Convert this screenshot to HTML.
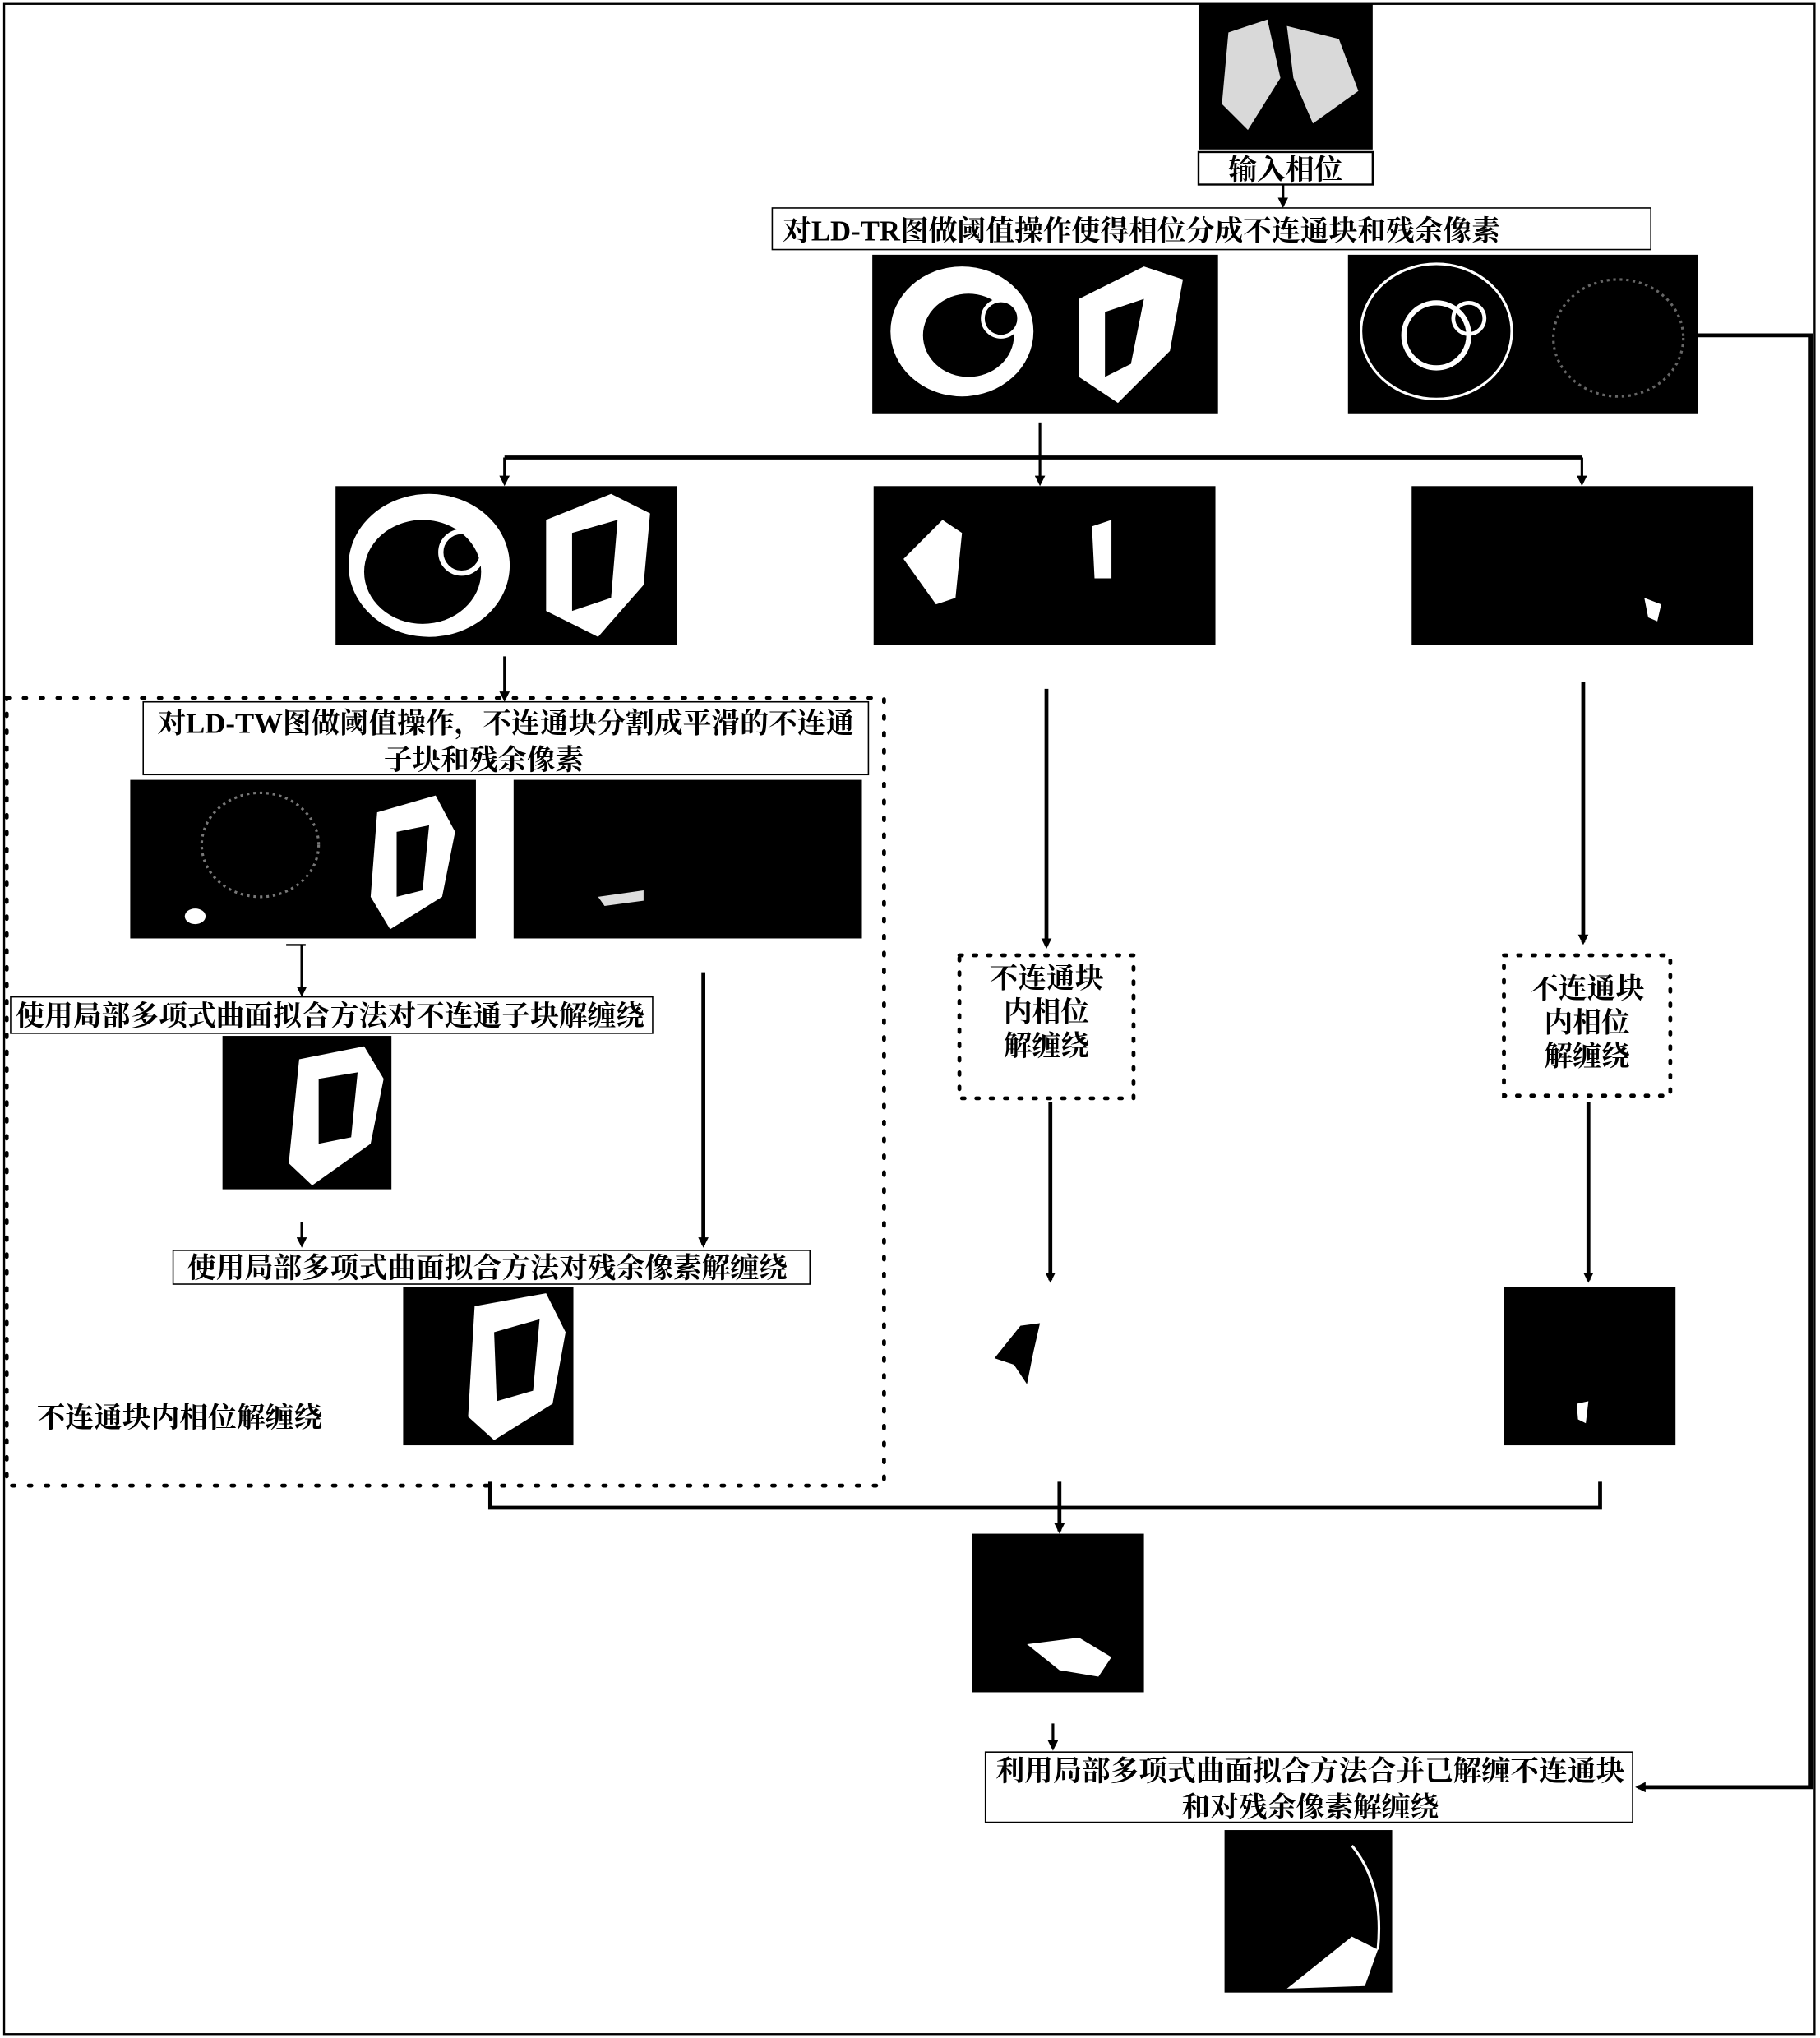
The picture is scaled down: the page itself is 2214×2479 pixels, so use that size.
<!DOCTYPE html>
<html><head><meta charset="utf-8"><style>
html,body{margin:0;padding:0;background:#fff}
svg{display:block}
text{font-family:"Liberation Serif","Noto Serif CJK SC",serif;font-weight:bold;font-size:22px;fill:#000}
</style></head><body>
<svg width="2214" height="2479" viewBox="0 0 1400 1568" xmlns="http://www.w3.org/2000/svg">
<defs>
<marker id="a" markerWidth="8" markerHeight="8" refX="6" refY="4" orient="auto" markerUnits="userSpaceOnUse"><path d="M0,0 L8,4 L0,8 z" fill="#000"/></marker>
</defs>
<rect x="3" y="3" width="1393" height="1562" fill="none" stroke="#000" stroke-width="1.5"/>

<rect x="922" y="3" width="134" height="112" fill="#000"/>
<path d="M945,25 L975,15 L985,60 L960,100 L940,80z M990,20 L1030,30 L1045,70 L1010,95 L995,60z" fill="#fff" opacity="0.85"/>
<rect x="922" y="117" width="134" height="25" fill="#fff" stroke="#000" stroke-width="1.5"/>
<text x="989" y="138" text-anchor="middle">输入相位</text>
<line x1="987" y1="142" x2="987" y2="158" stroke="#000" stroke-width="2" marker-end="url(#a)"/>

<rect x="594" y="160" width="676" height="32" fill="#fff" stroke="#000" stroke-width="1"/>
<text x="602" y="185">对LD-TR图做阈值操作使得相位分成不连通块和残余像素</text>

<rect x="671" y="196" width="266" height="122" fill="#000"/>
<ellipse cx="740" cy="255" rx="55" ry="50" fill="#fff"/>
<ellipse cx="745" cy="258" rx="35" ry="32" fill="#000"/>
<circle cx="770" cy="245" r="14" fill="#000" stroke="#fff" stroke-width="3"/>
<path d="M830,230 L880,205 L910,215 L900,270 L860,310 L830,290z" fill="#fff"/>
<path d="M850,240 L880,230 L870,280 L850,290z" fill="#000"/>
<rect x="1037" y="196" width="269" height="122" fill="#000"/>
<ellipse cx="1105" cy="255" rx="58" ry="52" fill="none" stroke="#fff" stroke-width="2"/>
<circle cx="1105" cy="258" r="25" fill="none" stroke="#fff" stroke-width="4"/>
<circle cx="1130" cy="245" r="12" fill="none" stroke="#fff" stroke-width="3"/>
<ellipse cx="1245" cy="260" rx="50" ry="45" fill="none" stroke="#666" stroke-width="2" stroke-dasharray="2 3"/>

<polyline points="1306,258 1393,258 1393,1375 1260,1375" fill="none" stroke="#000" stroke-width="3" marker-end="url(#a)"/>

<line x1="800" y1="325" x2="800" y2="352" stroke="#000" stroke-width="2"/>
<line x1="388" y1="352" x2="1217" y2="352" stroke="#000" stroke-width="3"/>
<line x1="388" y1="352" x2="388" y2="372" stroke="#000" stroke-width="2" marker-end="url(#a)"/>
<line x1="800" y1="352" x2="800" y2="372" stroke="#000" stroke-width="2" marker-end="url(#a)"/>
<line x1="1217" y1="352" x2="1217" y2="372" stroke="#000" stroke-width="2" marker-end="url(#a)"/>

<rect x="258" y="374" width="263" height="122" fill="#000"/>
<ellipse cx="330" cy="435" rx="62" ry="55" fill="#fff"/>
<ellipse cx="325" cy="440" rx="45" ry="40" fill="#000"/>
<circle cx="355" cy="425" r="16" fill="none" stroke="#fff" stroke-width="4"/>
<path d="M420,400 L470,380 L500,395 L495,450 L460,490 L420,470z" fill="#fff"/>
<path d="M440,410 L475,400 L470,460 L440,470z" fill="#000"/>
<rect x="672" y="374" width="263" height="122" fill="#000"/>
<path d="M695,430 L725,400 L740,410 L735,460 L720,465z" fill="#fff"/>
<path d="M840,405 L855,400 L855,445 L842,445z" fill="#fff"/>
<rect x="1086" y="374" width="263" height="122" fill="#000"/>
<path d="M1265,460 L1278,465 L1275,478 L1268,475z" fill="#fff"/>

<line x1="388" y1="505" x2="388" y2="538" stroke="#000" stroke-width="2" marker-end="url(#a)"/>

<rect x="5" y="537" width="675" height="606" fill="none" stroke="#000" stroke-width="3" stroke-dasharray="2 11" stroke-linecap="round"/>
<rect x="110" y="540" width="558" height="56" fill="#fff" stroke="#000" stroke-width="1"/>
<text x="389" y="564" text-anchor="middle">对LD-TW图做阈值操作，不连通块分割成平滑的不连通</text>
<text x="372" y="592" text-anchor="middle">子块和残余像素</text>

<rect x="100" y="600" width="266" height="122" fill="#000"/>
<ellipse cx="200" cy="650" rx="45" ry="40" fill="none" stroke="#777" stroke-width="2" stroke-dasharray="2 3"/>
<path d="M290,625 L335,612 L350,640 L340,690 L300,715 L285,690z" fill="#fff"/>
<path d="M305,640 L330,635 L325,685 L305,690z" fill="#000"/>
<ellipse cx="150" cy="705" rx="8" ry="6" fill="#fff"/>
<rect x="395" y="600" width="268" height="122" fill="#000"/>
<path d="M460,690 L495,685 L495,693 L465,697z" fill="#ddd"/>

<line x1="232" y1="727" x2="232" y2="765" stroke="#000" stroke-width="2" marker-end="url(#a)"/>
<line x1="220" y1="727" x2="235" y2="727" stroke="#000" stroke-width="1.5"/>
<rect x="8" y="767" width="494" height="28" fill="#fff" stroke="#000" stroke-width="1"/>
<text x="12" y="789">使用局部多项式曲面拟合方法对不连通子块解缠绕</text>

<rect x="171" y="797" width="130" height="118" fill="#000"/>
<path d="M230,815 L280,805 L295,830 L285,880 L240,912 L222,895z" fill="#fff"/>
<path d="M245,830 L275,825 L270,875 L245,880z" fill="#000"/>

<line x1="232" y1="940" x2="232" y2="958" stroke="#000" stroke-width="2" marker-end="url(#a)"/>
<line x1="541" y1="748" x2="541" y2="958" stroke="#000" stroke-width="3" marker-end="url(#a)"/>
<rect x="133" y="962" width="490" height="26" fill="#fff" stroke="#000" stroke-width="1"/>
<text x="144" y="983">使用局部多项式曲面拟合方法对残余像素解缠绕</text>

<rect x="310" y="990" width="131" height="122" fill="#000"/>
<path d="M365,1005 L420,995 L435,1025 L425,1080 L380,1108 L360,1090z" fill="#fff"/>
<path d="M380,1025 L415,1015 L410,1070 L382,1078z" fill="#000"/>
<text x="28" y="1098">不连通块内相位解缠绕</text>

<line x1="805" y1="530" x2="805" y2="728" stroke="#000" stroke-width="3" marker-end="url(#a)"/>
<rect x="738" y="735" width="134" height="110" fill="none" stroke="#000" stroke-width="3" stroke-dasharray="2 9" stroke-linecap="round"/>
<text x="805" y="760" text-anchor="middle">不连通块</text>
<text x="805" y="786" text-anchor="middle">内相位</text>
<text x="805" y="812" text-anchor="middle">解缠绕</text>
<line x1="808" y1="848" x2="808" y2="985" stroke="#000" stroke-width="3" marker-end="url(#a)"/>
<path d="M765,1045 L785,1020 L800,1018 L795,1040 L790,1065 L780,1050z" fill="#000"/>

<line x1="1218" y1="525" x2="1218" y2="725" stroke="#000" stroke-width="3" marker-end="url(#a)"/>
<rect x="1157" y="735" width="128" height="108" fill="none" stroke="#000" stroke-width="3" stroke-dasharray="2 9" stroke-linecap="round"/>
<text x="1221" y="768" text-anchor="middle">不连通块</text>
<text x="1221" y="794" text-anchor="middle">内相位</text>
<text x="1221" y="820" text-anchor="middle">解缠绕</text>
<line x1="1222" y1="848" x2="1222" y2="985" stroke="#000" stroke-width="3" marker-end="url(#a)"/>
<rect x="1157" y="990" width="132" height="122" fill="#000"/>
<path d="M1213,1080 L1222,1078 L1220,1095 L1214,1092z" fill="#fff"/>

<polyline points="377,1140 377,1160 1231,1160 1231,1140" fill="none" stroke="#000" stroke-width="3"/>
<line x1="815" y1="1140" x2="815" y2="1178" stroke="#000" stroke-width="3" marker-end="url(#a)"/>
<rect x="748" y="1180" width="132" height="122" fill="#000"/>
<path d="M790,1265 L830,1260 L855,1275 L845,1290 L815,1285z" fill="#fff"/>

<line x1="810" y1="1326" x2="810" y2="1345" stroke="#000" stroke-width="2" marker-end="url(#a)"/>
<rect x="758" y="1348" width="498" height="54" fill="#fff" stroke="#000" stroke-width="1"/>
<text x="1008" y="1370" text-anchor="middle">利用局部多项式曲面拟合方法合并已解缠不连通块</text>
<text x="1008" y="1398" text-anchor="middle">和对残余像素解缠绕</text>

<rect x="942" y="1408" width="129" height="125" fill="#000"/>
<path d="M990,1530 L1040,1490 L1060,1500 L1050,1528z" fill="#fff"/>
<path d="M1040,1420 Q1065,1450 1060,1500" fill="none" stroke="#fff" stroke-width="2"/>
</svg>
</body></html>
